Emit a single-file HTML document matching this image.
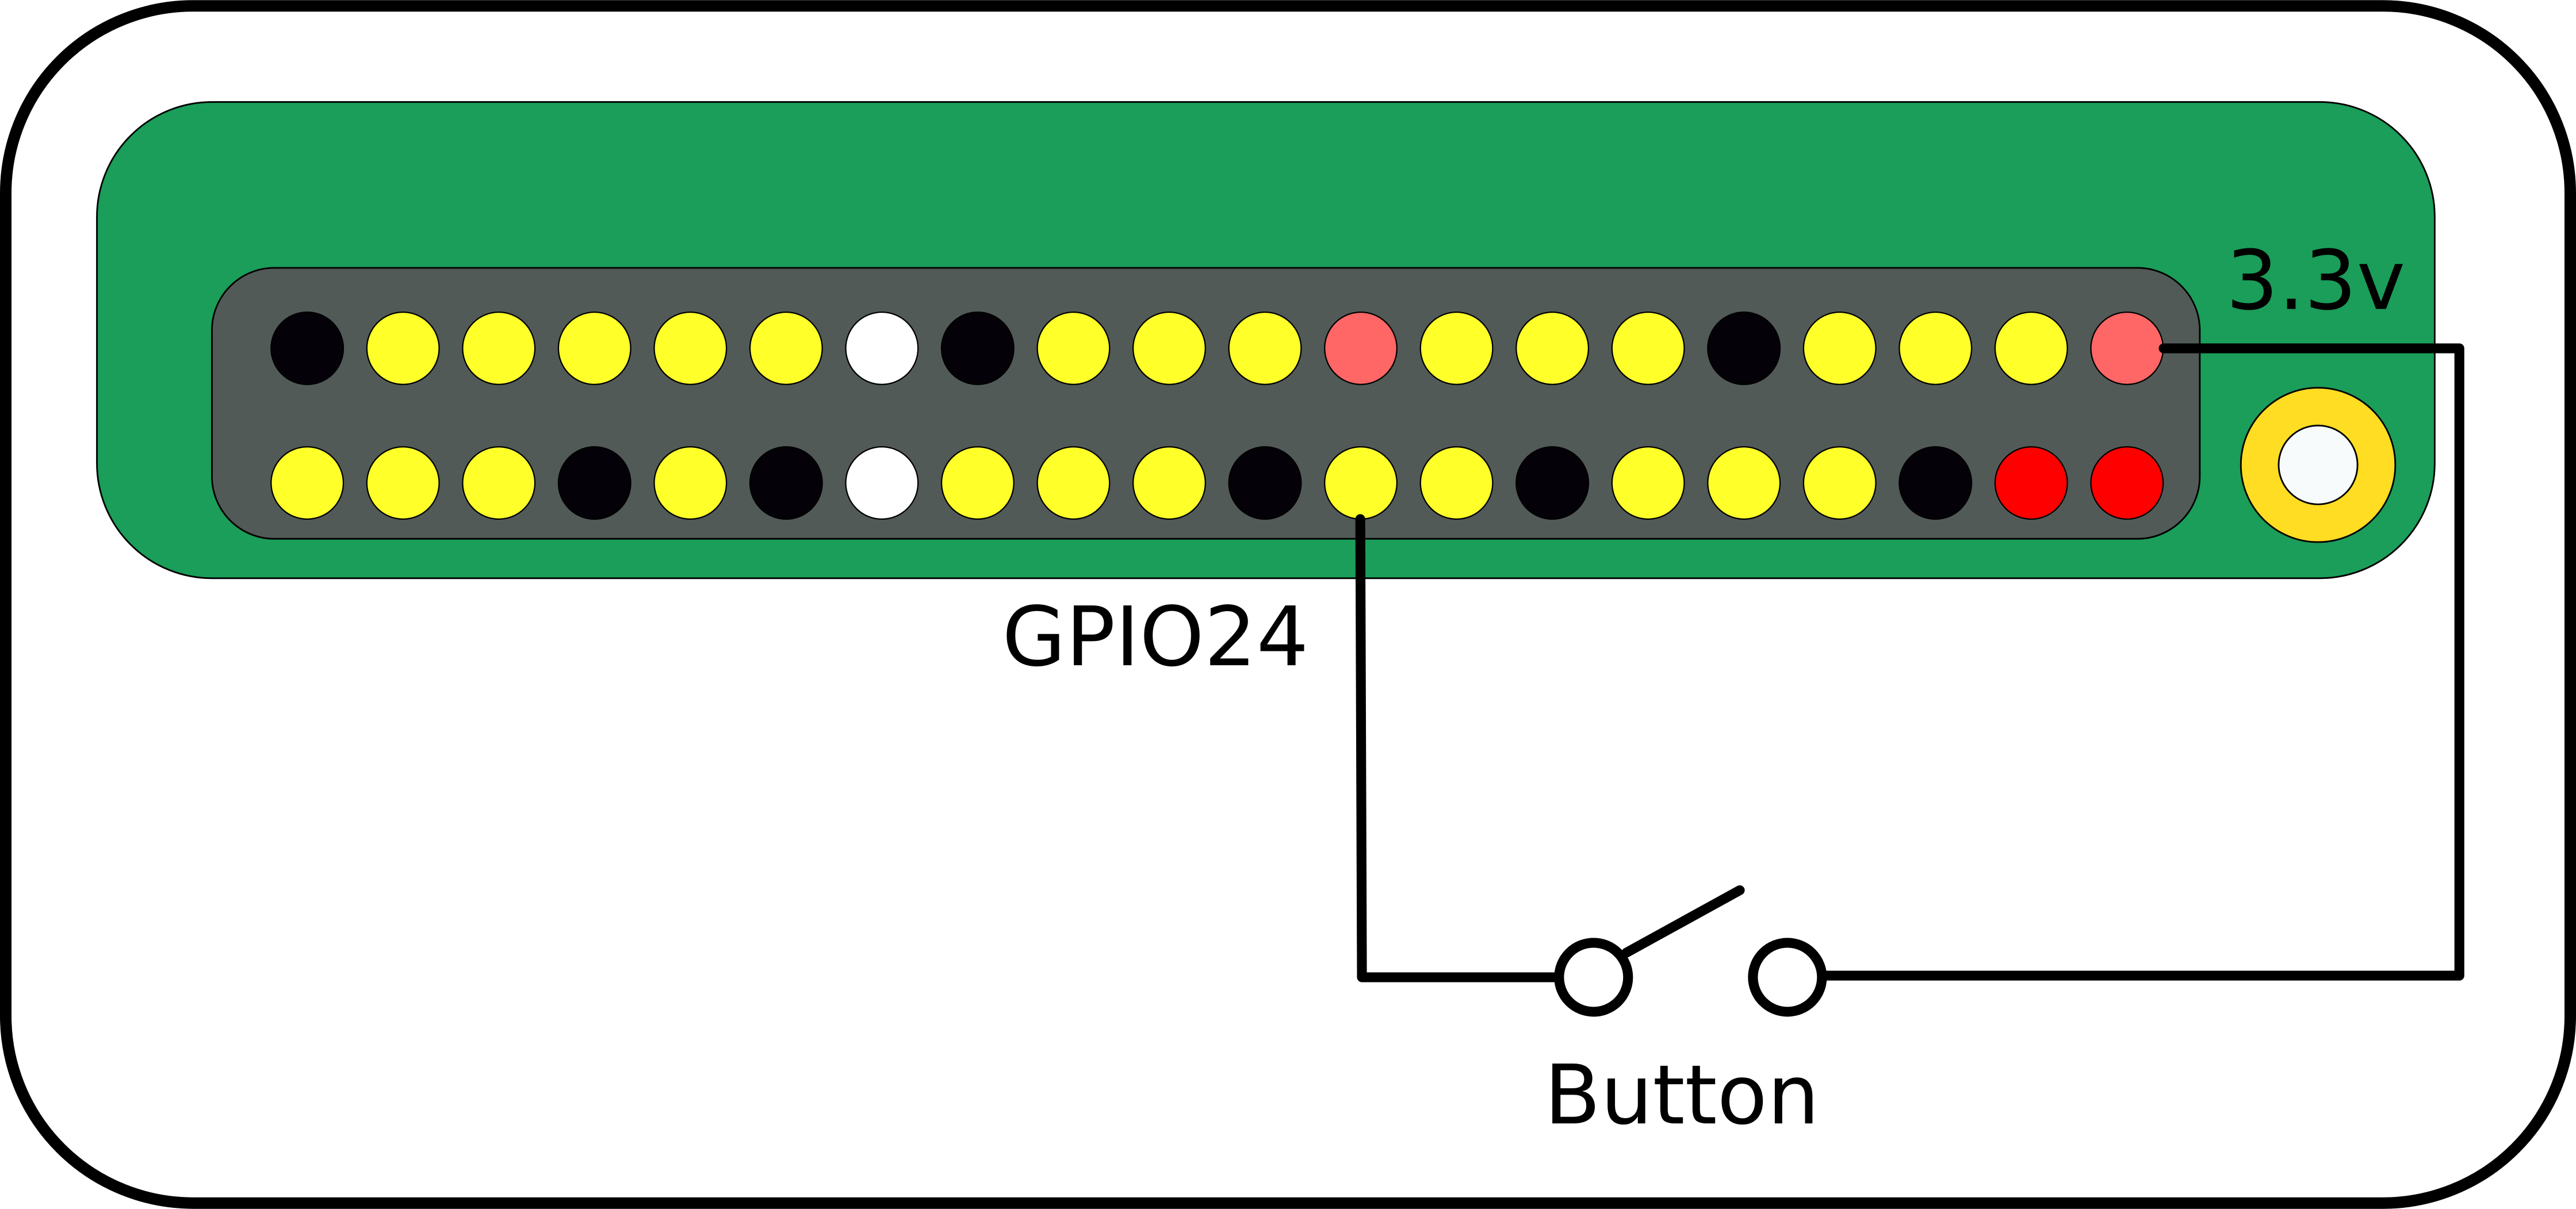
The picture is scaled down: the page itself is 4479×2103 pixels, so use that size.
<!DOCTYPE html>
<html><head><meta charset="utf-8"><style>
html,body{margin:0;padding:0;background:#fff;}
svg{display:block;}
text{font-family:"DejaVu Sans","Liberation Sans",sans-serif;}
</style></head><body>
<svg width="4479" height="2103" viewBox="0 0 1568 736" xmlns="http://www.w3.org/2000/svg">
<rect x="3.5" y="3.5" width="1561" height="729" rx="114" fill="#fff" stroke="#000" stroke-width="7"/>
<rect x="59" y="62" width="1423" height="290" rx="70" fill="#1a9e5a" stroke="#000" stroke-width="1"/>
<rect x="129" y="163" width="1210" height="165" rx="38" fill="#525a57" stroke="#000" stroke-width="1"/>
<g id="pins"></g>
<circle cx="1411" cy="283" r="47" fill="#fedd22" stroke="#000" stroke-width="1"/>
<circle cx="1411" cy="283" r="24" fill="#f8fbfb" stroke="#000" stroke-width="1"/>
<text x="1355" y="188" font-size="50">3.3v</text>
<text x="610" y="405" font-size="50">GPIO24</text>
<text x="940" y="684" font-size="50">Button</text>
<g fill="none" stroke="#000" stroke-width="6" stroke-linecap="round" stroke-linejoin="round">
<polyline points="1317,212 1497,212 1497,594 1110,594"/>
<polyline points="828,316 829,595 947,595"/>
<circle cx="970" cy="595" r="21" fill="#fff"/>
<circle cx="1088" cy="595" r="21" fill="#fff"/>
<line x1="990" y1="580" x2="1059" y2="542"/>
</g>
</svg>
<script>
const row1 = ['k','y','y','y','y','y','w','k','y','y','y','s','y','y','y','k','y','y','y','s'];
const row2 = ['y','y','y','k','y','k','w','y','y','y','k','y','y','k','y','y','y','k','r','r'];
const colors = {k:'#040208', y:'#ffff2a', w:'#ffffff', s:'#ff6666', r:'#ff0000'};
const g = document.getElementById('pins');
[[row1,212],[row2,294]].forEach(([row,cy],ri)=>{
  row.forEach((c,i)=>{
    const el = document.createElementNS('http://www.w3.org/2000/svg','circle');
    el.setAttribute('cx', 187 + i*58.3);
    el.setAttribute('cy', cy);
    el.setAttribute('r', 22);
    el.setAttribute('fill', colors[c]);
    el.setAttribute('stroke', '#000');
    el.setAttribute('stroke-width', '0.8');
    
    
    g.appendChild(el);
  });
});
</script>
</body></html>
